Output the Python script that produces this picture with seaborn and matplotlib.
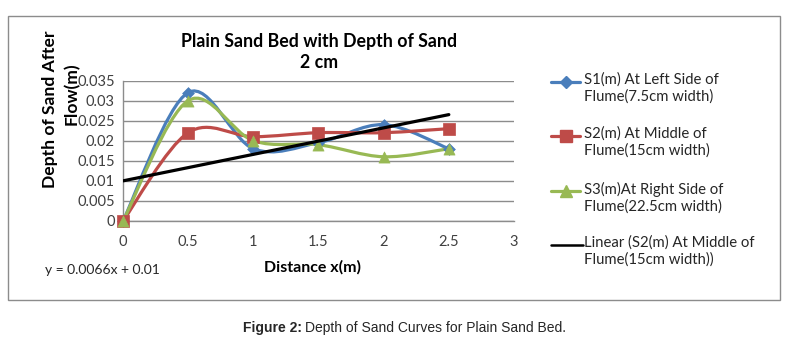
import numpy as np
import pandas as pd
import seaborn as sns
import matplotlib.pyplot as plt
from matplotlib.path import Path
from matplotlib.patches import PathPatch, Rectangle
from matplotlib.lines import Line2D

# values
distance = [0, 0.5, 1, 1.5, 2, 2.5]
s1_left = [0, 0.032, 0.018, 0.0195, 0.024, 0.018]
s2_middle = [0, 0.022, 0.021, 0.022, 0.022, 0.023]
s3_right = [0, 0.030, 0.020, 0.019, 0.016, 0.018]
trend_slope = 0.0066
trend_intercept = 0.01
series_labels = ["S1(m) At Left Side of\nFlume(7.5cm width)",
                 "S2(m) At Middle of\nFlume(15cm width)",
                 "S3(m)At Right Side of\nFlume(22.5cm width)"]
trend_label = "Linear (S2(m) At Middle of\nFlume(15cm width))"
x_ticks = [0, 0.5, 1, 1.5, 2, 2.5, 3]
y_ticks = [0, 0.005, 0.01, 0.015, 0.02, 0.025, 0.03, 0.035]

colors = ["#4a7ebb", "#be4b48", "#98b954"]
markers = ["D", "s", "^"]
msizes = [6, 8, 8]

sns.set_theme(style="white")
plt.rcParams["font.family"] = ["Lato", "DejaVu Sans"]

df = pd.DataFrame({"distance": distance * 3,
                   "depth": s1_left + s2_middle + s3_right,
                   "series": sum([[s] * len(distance) for s in series_labels], [])})


def smooth_path(x, y):
    # excel-style smoothed line drawn as bezier segments through the points
    pts = np.column_stack([x, y])
    ext = np.vstack([pts[0], pts, pts[-1]])
    verts = [pts[0]]
    codes = [Path.MOVETO]
    for i in range(len(pts) - 1):
        p0, p1, p2, p3 = ext[i], ext[i + 1], ext[i + 2], ext[i + 3]
        verts += [p1 + (p2 - p0) / 6, p2 - (p3 - p1) / 6, p2]
        codes += [Path.CURVE4] * 3
    return Path(verts, codes)


fig = plt.figure(figsize=(7.9, 3.42), dpi=100)
ax = fig.add_axes([123 / 790, 1 - 221 / 342, 391 / 790, 140.5 / 342])

for lab, col in zip(series_labels, colors):
    sub = df[df["series"] == lab]
    ax.add_patch(PathPatch(smooth_path(sub["distance"].values, sub["depth"].values),
                           facecolor="none", edgecolor=col, lw=2.3, zorder=3))

for lab, col, mk, ms in zip(series_labels, colors, markers, msizes):
    sub = df[df["series"] == lab]
    sns.scatterplot(data=sub, x="distance", y="depth", marker=mk, color=col,
                    s=ms ** 2, edgecolor=col, linewidth=0.5, zorder=4, ax=ax,
                    legend=False, clip_on=False)

trend_x = np.array([distance[0], distance[-1]])
ax.plot(trend_x, trend_intercept + trend_slope * trend_x, color="black", lw=2.3, zorder=5)

ax.set_xlim(0, 3)
ax.set_ylim(0, 0.035)
ax.set_xticks(x_ticks)
ax.set_xticklabels([f"{t:g}" for t in x_ticks])
ax.set_yticks(y_ticks)
ax.set_yticklabels([f"{t:g}" for t in y_ticks])
ax.tick_params(axis="both", labelsize=10.5, colors="#404040", length=0, pad=6)
ax.tick_params(axis="x", pad=10)
ax.yaxis.grid(True, color="#8c8c8c", lw=1)
ax.set_axisbelow(True)
for side in ["top", "right"]:
    ax.spines[side].set_visible(False)
for side in ["left", "bottom"]:
    ax.spines[side].set_color("#8c8c8c")
    ax.spines[side].set_linewidth(1)
ax.set_xlabel("")
ax.set_ylabel("")

fig.text(319 / 790, 1 - 42 / 342, "Plain Sand Bed with Depth of Sand", ha="center", va="center",
         fontsize=12.8, fontweight="bold", color="black")
fig.text(319 / 790, 1 - 63 / 342, "2 cm", ha="center", va="center",
         fontsize=12.8, fontweight="bold", color="black")
fig.text(50 / 790, 1 - 109 / 342, "Depth of Sand After", rotation=90, ha="center", va="center",
         fontsize=12.6, fontweight="bold", color="black")
fig.text(72 / 790, 1 - 94 / 342, "Flow(m)", rotation=90, ha="center", va="center",
         fontsize=12.6, fontweight="bold", color="black")
fig.text(313 / 790, 1 - 267 / 342, "Distance x(m)", ha="center", va="center",
         fontsize=11.5, fontweight="bold", color="black")
fig.text(45 / 790, 1 - 270 / 342, "y = 0.0066x + 0.01", ha="left", va="center",
         fontsize=10, color="#262626")

# legend, drawn by hand so the key sits on the first text line
rows = [82, 136, 191, 245]
for i, y in enumerate(rows):
    yf = 1 - y / 342
    if i < 3:
        fig.add_artist(Line2D([551 / 790, 580 / 790], [yf, yf], color=colors[i], lw=2.3,
                              transform=fig.transFigure))
        fig.add_artist(Line2D([565.5 / 790], [yf], marker=markers[i], color=colors[i],
                              markersize=msizes[i], transform=fig.transFigure))
        txt = series_labels[i]
    else:
        fig.add_artist(Line2D([551 / 790, 583 / 790], [yf, yf], color="black", lw=1.8,
                              transform=fig.transFigure))
        txt = trend_label
    fig.text(584 / 790, yf + 9.5 / 342, txt, ha="left", va="top", fontsize=10.7,
             color="#262626", linespacing=1.25)

fig.add_artist(Rectangle((8 / 790, 1 - 300 / 342), 772 / 790, 284 / 342, transform=fig.transFigure,
                         fill=False, edgecolor="#8c8c8c", lw=1))

# caption: bold prefix, then the rest placed right after it
cap_font = ["Liberation Sans Narrow", "Liberation Sans"]
t1 = fig.text(243 / 790, 1 - 328 / 342, "Figure 2:", ha="left", va="center", fontsize=10,
              fontweight="bold", family=cap_font)
renderer = fig.canvas.get_renderer()
bb = t1.get_window_extent(renderer=renderer)
fig.text(bb.x1 / fig.bbox.width + 3 / 790, 1 - 328 / 342, "Depth of Sand Curves for Plain Sand Bed.",
         ha="left", va="center", fontsize=10, family=cap_font)

fig.savefig("out.png", dpi=100)
